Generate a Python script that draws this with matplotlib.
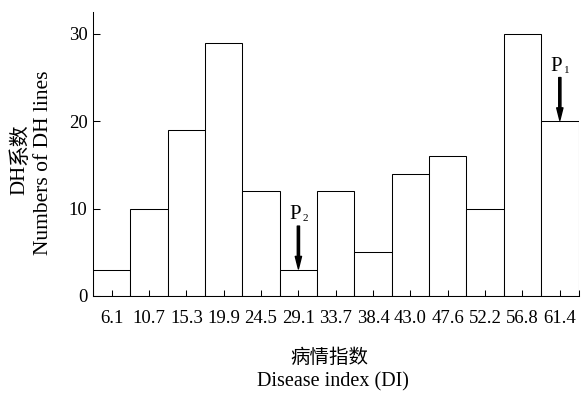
import numpy as np
import matplotlib
matplotlib.use('Agg')
import matplotlib.pyplot as plt

plt.rcParams['font.family'] = ['Liberation Serif', 'Noto Sans CJK SC']

# disease index classes and number of DH lines in each
di_labels = ['6.1', '10.7', '15.3', '19.9', '24.5', '29.1', '33.7',
             '38.4', '43.0', '47.6', '52.2', '56.8', '61.4']
counts = [3, 10, 19, 29, 12, 3, 12, 5, 14, 16, 10, 30, 20]

# parents marked with arrows: (subscript, class index)
parents = [('2', 5), ('1', 12)]

W, H = 587, 395
fig = plt.figure(figsize=(W / 100, H / 100), dpi=100)
ax = fig.add_axes([93 / W, 1 - 296 / H, 485.5 / W, 284 / H])

x = np.arange(len(counts))
ax.bar(x, counts, width=1.0, color='white', edgecolor='black', linewidth=0.75)

ax.set_xlim(-0.5, len(counts) - 0.5)
ax.set_ylim(0, 32.5)
ax.set_xticks(x)
ax.set_xticklabels(di_labels, fontsize=13.5)
ax.set_xticks(np.arange(-0.5, len(counts)), minor=True)
ax.set_yticks([0, 10, 20, 30])
ax.tick_params(axis='y', labelsize=13.5, direction='in', length=5, width=0.75, pad=4)
ax.tick_params(axis='x', which='both', direction='in', length=4, width=0.75, pad=10)

for s in ['top', 'right']:
    ax.spines[s].set_visible(False)
for s in ['left', 'bottom']:
    ax.spines[s].set_linewidth(0.75)

for sub, i in parents:
    top = counts[i]
    ax.annotate('', xy=(i, top + 0.1), xytext=(i, top + 5.0),
                arrowprops=dict(facecolor='black', edgecolor='black', width=1.6,
                                headwidth=4.5, headlength=9, shrink=0))
    ax.text(i + 0.07, top + 5.8, 'P', ha='right', va='baseline', fontsize=15)
    ax.text(i + 0.1, top + 5.55, sub, ha='left', va='baseline', fontsize=8)

# axis titles: Chinese line above English line
fig.text(20 / W, 1 - 195 / H, 'DH', rotation=90, ha='center', va='bottom',
         fontsize=15)
fig.text(20 / W, 1 - 165 / H, '系数', rotation=90, ha='center', va='bottom',
         fontsize=15, family='Noto Sans CJK SC')
fig.text(44 / W, 1 - 163 / H, 'Numbers of DH lines', rotation=90,
         ha='center', va='center', fontsize=15.5)
fig.text(329 / W, 1 - 357 / H, '病情指数', ha='center', va='center',
         fontsize=14, family='Noto Sans CJK SC')
fig.text(333 / W, 1 - 382 / H, 'Disease index (DI)', ha='center', va='center',
         fontsize=14.5)

fig.savefig('out.png', dpi=100)
